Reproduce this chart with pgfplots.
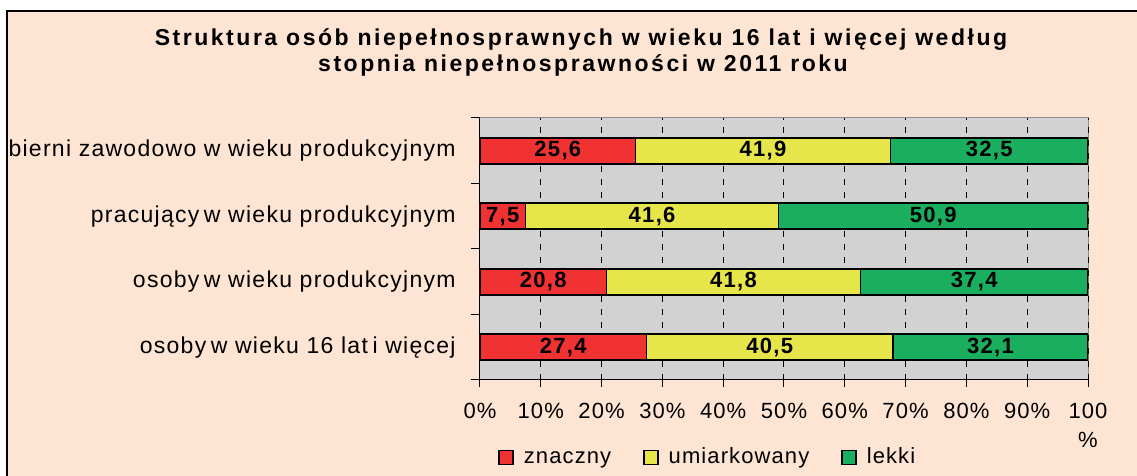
\documentclass[border=0pt]{standalone}
\usepackage{fontspec}
\setmainfont{Liberation Sans}
\newfontfamily\tickf[LetterSpace=5]{Liberation Sans}
\newfontfamily\catf[LetterSpace=5.5]{Liberation Sans}
\newfontfamily\barf[LetterSpace=6]{Liberation Sans}
\newfontfamily\titf[LetterSpace=11]{Liberation Sans}
\usepackage{pgfplots}
\pgfplotsset{compat=1.18}
\definecolor{peach}{RGB}{253,228,211}
\definecolor{plotgray}{RGB}{210,210,210}
\definecolor{framegray}{RGB}{140,140,140}
\definecolor{barred}{RGB}{240,50,50}
\definecolor{baryellow}{RGB}{230,230,75}
\definecolor{bargreen}{RGB}{25,175,95}
\begin{document}
\begin{tikzpicture}
\clip (0pt,0pt) rectangle (568.5pt,238pt);
\fill[white] (0pt,0pt) rectangle (568.5pt,238pt);
\fill[peach] (3.5pt,-2pt) rectangle (572pt,232.5pt);
\draw[line width=0.6pt] (3.5pt,-2pt) -- (3.5pt,232.5pt) -- (572pt,232.5pt);
\node[anchor=base, inner sep=0pt, font=\titf\bfseries\fontsize{11.5}{13}\selectfont] at (290.5pt,215pt) {Struktura osób niepełnosprawnych w wieku 16 lat i więcej według};
\node[anchor=base, inner sep=0pt, font=\titf\bfseries\fontsize{11.5}{13}\selectfont] at (291.5pt,202pt) {stopnia niepełnosprawności w 2011 roku};
\begin{axis}[
  at={(240pt,48pt)}, anchor=south west,
  scale only axis, width=304pt, height=131pt,
  xbar stacked, bar width=13pt,
  xmin=0, xmax=100, ymin=-0.5, ymax=3.5,
  axis background/.style={fill=plotgray, draw=framegray, line width=0.5pt},
  axis x line*=bottom, axis y line*=left,
  axis line style={-, black, line width=0.5pt},
  tick align=outside,
  xtick={0,10,...,100},
  xticklabels={0\%,10\%,20\%,30\%,40\%,50\%,60\%,70\%,80\%,90\%,{100\\\%}},
  major tick length=3.5pt,
  x tick style={black, line width=0.5pt},
  xticklabel style={font=\tickf\fontsize{11}{14.5}\selectfont, align=center, inner sep=0pt, anchor=north, yshift=-8pt},
  ytick={0,1,2,3},
  yticklabels={osoby\hspace{0.2em}w wieku 16 lat\hspace{0.2em}i więcej, osoby\hspace{0.2em}w wieku produkcyjnym, pracujący\hspace{0.2em}w wieku produkcyjnym, bierni zawodowo w wieku produkcyjnym},
  yticklabel style={font=\catf\fontsize{11.5}{13}\selectfont, inner sep=0pt, anchor=east, xshift=-8.5pt},
  major y tick style={draw=none},
  minor ytick={-0.5,0.5,1.5,2.5,3.5},
  minor tick length=4.5pt,
  minor y tick style={black, line width=0.5pt},
  xmajorgrids,
  major x grid style={black, line width=0.5pt, dash pattern=on 3pt off 3.5pt},
  point meta=explicit,
  /pgf/number format/assume math mode=true,
  nodes near coords={\pgfmathprintnumber[fixed,fixed zerofill,precision=1,use comma]{\pgfplotspointmeta}},
  every node near coord/.append style={anchor=center, inner sep=0pt, font=\barf\bfseries\fontsize{11}{13}\selectfont},
  legend columns=3,
  legend style={at={(0.0296,-0.2973)}, anchor=west, draw=none, fill=none, inner sep=0pt,
    font=\tickf\fontsize{11}{13}\selectfont,
    nodes={text height=7.9pt, text depth=2.3pt},
    /tikz/every odd column/.append style={column sep=3pt},
    /tikz/every even column/.append style={column sep=14pt}},
  legend image code/.code={\draw[#1, line width=0.75pt] (0pt,-3.3pt) rectangle (7pt,3.7pt);},
]
\addplot[fill=barred, draw=black, line width=0.8pt] coordinates {(27.4,0) [27.4] (20.8,1) [20.8] (7.5,2) [7.5] (25.6,3) [25.6]};
\addplot[fill=baryellow, draw=black, line width=0.8pt] coordinates {(40.5,0) [40.5] (41.8,1) [41.8] (41.6,2) [41.6] (41.9,3) [41.9]};
\addplot[fill=bargreen, draw=black, line width=0.8pt] coordinates {(32.1,0) [32.1] (37.4,1) [37.4] (50.9,2) [50.9] (32.5,3) [32.5]};
\legend{znaczny, umiarkowany, lekki}
\end{axis}
\end{tikzpicture}
\end{document}
